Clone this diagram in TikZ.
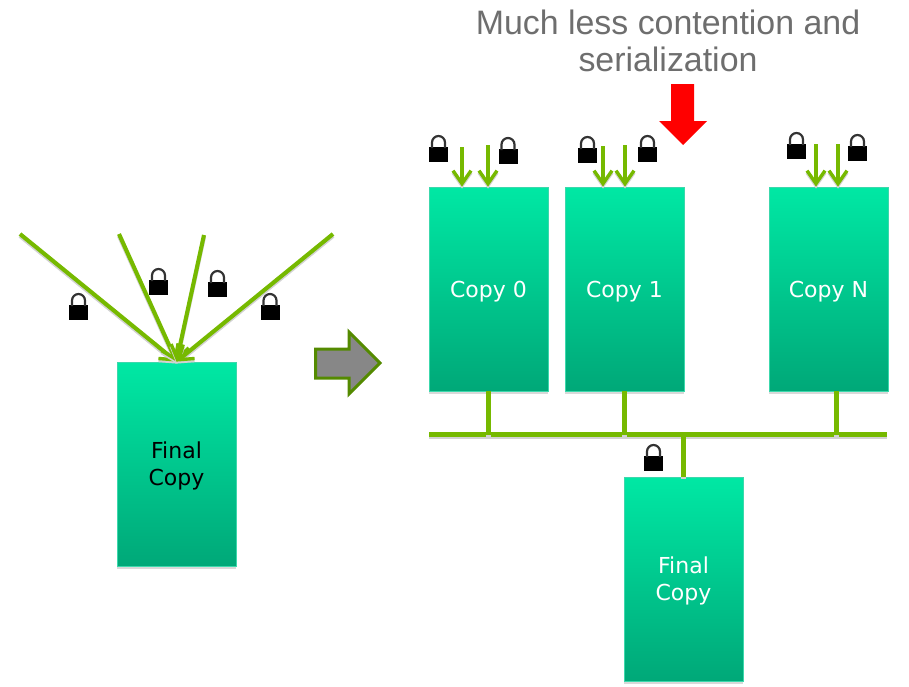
\documentclass[tikz,border=0pt]{standalone}
\usepackage{fontspec}
\setmainfont{DejaVu Sans}
\newfontfamily\titlefont{Liberation Sans}
\usetikzlibrary{arrows.meta,shadows}
\definecolor{linegreen}{HTML}{76B900}
\definecolor{boxtop}{HTML}{00E8A4}
\definecolor{boxbottom}{HTML}{00A878}
\definecolor{boxedge}{HTML}{3CD8AC}
\definecolor{darkgreen}{HTML}{548A00}
\definecolor{titlegray}{HTML}{6E6E6E}
\tikzset{
  copybox/.style={draw=boxedge, line width=0.8pt, top color=boxtop, bottom color=boxbottom,
    minimum width=119pt, minimum height=204pt, inner sep=0pt, align=center, text depth=0pt,
    font=\fontsize{22}{27}\selectfont,
    drop shadow={shadow xshift=0pt, shadow yshift=-2.5pt, fill=gray, opacity=0.3}},
  greenline/.style={draw=linegreen, line width=4.1pt,
    preaction={draw=gray!35, line width=4.1pt, transform canvas={yshift=-2pt}}},
  greenarrow/.style={greenline, -{Straight Barb[length=13pt,width=18pt,line width=3.4pt]}},
  pics/padlock/.style={code={
    \fill[black] (-9.5,0) rectangle (9.5,14.5);
    \draw[black!80, line width=2.2pt] (-6.5,1) -- (-6.5,-4.5) arc[start angle=180, end angle=360, radius=6.5] -- (6.5,1);
  }}
}
\begin{document}
\begin{tikzpicture}[x=1pt, y=-1pt]
    \useasboundingbox (0,0) rectangle (909,686);

    \node[font=\titlefont\fontsize{33.9}{37}\selectfont, text=titlegray, align=center] (title) at (668,41)
        {Much less contention and\\serialization};
    \fill[red] (671,84) -- (694,84) -- (694,121) -- (707,121) -- (683,145) -- (659,121) -- (671,121) -- cycle;
    \draw[darkgreen, line width=3pt, fill=black!47] (315.5,349) -- (349,349) -- (349,332) -- (380,363) -- (349,394) -- (349,378) -- (315.5,378) -- cycle;

    \node[copybox, text=black] (final0) at (176.5,464) {Final\\Copy};
    \node[copybox, text=white] (copy0) at (488.5,289) {Copy 0};
    \node[copybox, text=white] (copy1) at (624.5,289) {Copy 1};
    \node[copybox, text=white] (copyN) at (828.5,289) {Copy N};
    \node[copybox, text=white] (final1) at (683.5,579) {Final\\Copy};

    \coordinate (fan0) at (20,234);
    \coordinate (fan1) at (119,234);
    \coordinate (fan2) at (204,235);
    \coordinate (fan3) at (333,234);
    \draw[greenarrow] (fan0) -- (final0.north);
    \draw[greenarrow] (fan1) -- (final0.north);
    \draw[greenarrow] (fan2) -- (final0.north);
    \draw[greenarrow] (fan3) -- (final0.north);

    \coordinate (in0a) at (462,147);
    \coordinate (in0b) at (488,145);
    \coordinate (in1a) at (603,146);
    \coordinate (in1b) at (625,145);
    \coordinate (inNa) at (816,144);
    \coordinate (inNb) at (838,144);
    \draw[greenarrow] (in0a) -- (in0a |- copy0.north);
    \draw[greenarrow] (in0b) -- (in0b |- copy0.north);
    \draw[greenarrow] (in1a) -- (in1a |- copy1.north);
    \draw[greenarrow] (in1b) -- (in1b |- copy1.north);
    \draw[greenarrow] (inNa) -- (inNa |- copyN.north);
    \draw[greenarrow] (inNb) -- (inNb |- copyN.north);

    \coordinate (buswest) at (429,434.5);
    \coordinate (buseast) at (887,434.5);
    \coordinate (stemN) at (836.5,391);
    \draw[greenline] (buswest) -- (buseast);
    \draw[greenline] (copy0.south) -- (copy0.south |- buswest);
    \draw[greenline] (copy1.south) -- (copy1.south |- buswest);
    \draw[greenline] (stemN) -- (stemN |- buswest);
    \draw[greenline] (final1.north) -- (final1.north |- buswest);

    \pic at (78.5,305) {padlock};
    \pic at (158.5,280) {padlock};
    \pic at (217.5,282) {padlock};
    \pic at (270,305) {padlock};
    \pic at (438.5,147) {padlock};
    \pic at (508,149) {padlock};
    \pic at (587.5,148) {padlock};
    \pic at (647.5,147) {padlock};
    \pic at (796.5,144) {padlock};
    \pic at (857.5,146) {padlock};
    \pic at (653.5,456) {padlock};
\end{tikzpicture}
\end{document}
